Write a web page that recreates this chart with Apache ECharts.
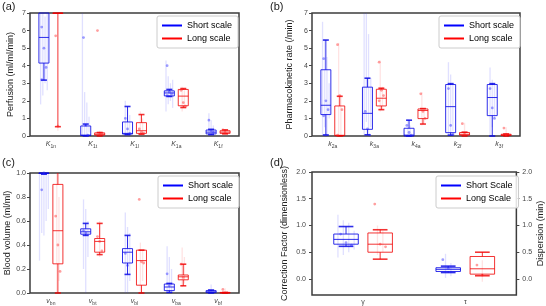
<!DOCTYPE html>
<html>
<head>
<meta charset="utf-8">
<script src="https://cdn.jsdelivr.net/npm/echarts@6/dist/echarts.min.js"></script>
<style>
  html, body { margin: 0; padding: 0; background: #fff; }
  #chart { width: 546px; height: 306px; }
</style>
</head>
<body>
<div id="chart"></div>
<script>
// ---- (a) perfusion, K subscripts ----
const catsA = ['1n', '1t', '1l', '1a', '1f'];
// [low whisker, q1, median, q3, high whisker]
const shortBoxA = [[3.18, 4.15, 5.61, 7.6, 8.0], [0.0, 0.03, 0.05, 0.57, 0.68], [0.08, 0.11, 0.15, 0.8, 1.68], [2.25, 2.28, 2.45, 2.57, 2.65], [0.08, 0.12, 0.22, 0.34, 0.38]];
const longBoxA = [[0.53, 7.5, 8.0, 9.0, 10.0], [0.0, 0.05, 0.1, 0.18, 0.2], [0.1, 0.15, 0.3, 0.76, 1.22], [1.62, 1.72, 2.27, 2.65, 2.7], [0.12, 0.15, 0.22, 0.3, 0.35]];
const shortPtsA = [[6.2, 5.0, 3.9, 3.2], [5.6, 0.6, 0.05], [1.0, 0.4, 0.15], [4.0, 2.5, 2.4, 2.3], [0.9, 0.3, 0.2]];
const longPtsA = [[5.7, 0.55], [6.0, 0.1, 0.15], [0.4, 0.2, 0.15], [2.6, 1.9, 1.7], [0.35, 0.2]];
const shortFaintA = [[[1.8, 7.5], [2.3, 7.0], [3.0, 6.8], [2.6, 7.5]], [[0, 7.5], [0, 2.5], [0, 1.9], [0.2, 1.1]], [[0, 2.0], [0.1, 1.6], [0, 1.2]], [[1.4, 4.3], [1.8, 3.4], [2.0, 3.0], [1.6, 3.2]], [[0, 1.3], [0.05, 0.9], [0.1, 0.6]]];
const longFaintA = [[[0.3, 0.7]], [[0, 0.3]], [[0, 1.4], [0.1, 1.0]], [[1.4, 2.8], [1.6, 2.6]], [[0.1, 0.4]]];

// ---- (b) pharmacokinetic rates, k subscripts ----
const catsB = ['2a', '3a', '4a', '2f', '3f'];
const shortBoxB = [[0.06, 1.22, 1.75, 3.77, 5.46], [0.07, 0.38, 1.29, 2.78, 3.29], [0.0, 0.0, 0.05, 0.44, 0.9], [0.05, 0.19, 1.67, 2.93, 2.98], [0.0, 1.16, 2.19, 2.93, 2.98]];
const longBoxB = [[0.0, 0.02, 0.04, 1.71, 2.26], [1.5, 1.71, 2.15, 2.66, 2.72], [0.68, 0.99, 1.45, 1.54, 1.56], [0.0, 0.05, 0.1, 0.2, 0.22], [0.0, 0.03, 0.06, 0.1, 0.12]];
const shortPtsB = [[4.4, 2.0, 1.5, 1.15, 0.05], [1.4, 0.4, 0.05], [0.6, 0.2, 0.05], [2.7, 0.6, 0.1], [2.7, 1.6, 1.0]];
const longPtsB = [[5.2, 2.3, 1.5, 0.05], [4.2, 2.6, 2.3, 2.0], [2.4, 1.4, 1.0], [0.7, 0.1], [0.45, 0.05]];
const shortFaintB = [[[0, 6.5], [0.5, 5.5], [0, 4.5], [1.0, 3.0]], [[0, 7.5], [0.8, 7.5], [0, 5.8], [0.5, 3.3]], [[0, 0.95], [0, 0.6]], [[0, 4.2], [0, 3.5], [0.3, 3.0]], [[0, 3.9], [0.5, 3.2], [1.0, 3.0]]];
const longFaintB = [[[0, 5.3], [0, 2.3]], [[1.4, 4.3], [1.5, 2.8]], [[0.6, 2.5], [0.7, 1.6]], [[0, 0.75]], [[0, 0.5]]];

// ---- (c) blood volume, v subscripts ----
const catsC = ['bn', 'bt', 'bl', 'ba', 'bf'];
const shortBoxC = [[0.99, 1.0, 1.0, 1.0, 1.0], [0.48, 0.49, 0.51, 0.535, 0.58], [0.155, 0.25, 0.34, 0.37, 0.48], [0.005, 0.02, 0.05, 0.075, 0.08], [0.0, 0.003, 0.01, 0.02, 0.025]];
const longBoxC = [[0.0, 0.243, 0.519, 0.905, 1.0], [0.32, 0.34, 0.43, 0.454, 0.58], [0.0, 0.065, 0.27, 0.357, 0.357], [0.06, 0.11, 0.135, 0.15, 0.24], [0.0, 0.0, 0.002, 0.005, 0.005]];
const shortPtsC = [[0.86, 1.0], [0.52, 0.5], [0.33, 0.23], [0.16, 0.06], [0.02]];
const longPtsC = [[0.64, 0.4, 0.18], [0.47, 0.43, 0.35], [0.78, 0.26, 0.25], [0.24, 0.13], [0.03]];
const shortFaintC = [[[0.27, 1.0], [0.5, 1.0], [0.48, 1.0], [0.6, 1.0], [0.7, 1.0]], [[0.2, 0.78], [0, 0.7], [0.3, 0.6]], [[0, 0.67], [0, 0.55], [0.1, 0.5]], [[0, 0.39], [0, 0.3], [0, 0.2]], [[0, 0.07]]];
const longFaintC = [[[0, 1.0], [0.1, 0.8]], [[0.3, 0.6]], [[0, 0.42], [0.1, 0.35]], [[0.05, 0.38], [0.08, 0.3]], [[0, 0.04]]];

// ---- (d) correction factor / dispersion ----
const catsD = ['γ', 'τ'];
const shortBoxD = [[0.61, 0.65, 0.74, 0.84, 0.98], [0.12, 0.14, 0.18, 0.21, 0.24]];
const longBoxD = [[0.37, 0.5, 0.65, 0.86, 0.92], [0.06, 0.09, 0.19, 0.42, 0.5]];
const shortPtsD = [[0.84, 0.68, 0.63], [0.36, 0.2]];
const longPtsD = [[1.4, 0.65, 0.6], [0.26, 0.07]];
const shortFaintD = [[[0.4, 1.2], [0.45, 1.1], [0.5, 1.05], [0.55, 0.9]], [[0.02, 0.47], [0.05, 0.3]]];
const longFaintD = [[[0.45, 1.0], [0.5, 0.9]], [[-0.05, 0.35]]];
const ticksD = [0, 0.5, 1.0, 1.5, 2.0];

const BLUE = 'rgba(10,10,230,0.85)';
const RED = 'rgba(240,0,0,0.8)';
const FONT = 'Liberation Sans';

function boxRenderer(side, color, faintColor, ptColor, pts, faint) {
  return function (params, api) {
    const i = api.value(0);
    const cs = params.coordSys;
    const band = api.size([1, 0])[0];
    const cx = api.coord([i, 0])[0] + side * band * 0.167;
    const w = band * 0.24;
    const yOf = v => Math.max(cs.y, Math.min(cs.y + cs.height, api.coord([i, v])[1]));
    const lo = yOf(api.value(1)), q1 = yOf(api.value(2)), md = yOf(api.value(3)),
      q3 = yOf(api.value(4)), hi = yOf(api.value(5));
    const kids = [];
    const f = faint[i] || [];
    f.forEach((r, k) => {
      const dx = (k - (f.length - 1) / 2) * w * 0.22;
      kids.push({ type: 'line', shape: { x1: cx + dx, y1: yOf(r[0]), x2: cx + dx, y2: yOf(r[1]) },
        style: { stroke: faintColor, lineWidth: 1.3 } });
    });
    const line = (x1, y1, x2, y2, lw) => kids.push({ type: 'line',
      shape: { x1, y1, x2, y2 }, style: { stroke: color, lineWidth: lw || 1 } });
    line(cx, q3, cx, hi);
    line(cx, q1, cx, lo);
    if (hi > cs.y + 0.5) line(cx - w * 0.3, hi, cx + w * 0.3, hi, 1.6);
    if (lo < cs.y + cs.height - 0.5 || api.value(1) === 0) line(cx - w * 0.3, lo, cx + w * 0.3, lo, 1.6);
    kids.push({ type: 'rect', shape: { x: cx - w / 2, y: q3, width: w, height: Math.max(q1 - q3, 0.5) },
      style: { stroke: color, fill: 'rgba(255,255,255,0)', lineWidth: 1 } });
    line(cx - w / 2, md, cx + w / 2, md, 1);
    (pts[i] || []).forEach((v, k) => {
      const dx = ((k % 3) - 1) * w * 0.22;
      kids.push({ type: 'circle', shape: { cx: cx + dx, cy: yOf(v), r: 1.4 },
        style: { fill: ptColor } });
    });
    return { type: 'group', children: kids };
  };
}

function boxSeries(name, idx, side, color, faintColor, ptColor, boxes, pts, faint) {
  return {
    type: 'custom', name, xAxisIndex: idx, yAxisIndex: idx,
    itemStyle: { color: side < 0 ? '#0000ff' : '#ff0000' },
    renderItem: boxRenderer(side, color, faintColor, ptColor, pts, faint),
    data: boxes.map((b, i) => [i].concat(b)),
    silent: true, z: 3
  };
}

function panelSeries(idx, names, sb, lb, sp, lp, sf, lf) {
  return [
    boxSeries(names[0], idx, -1, BLUE, 'rgba(60,60,255,0.16)', 'rgba(40,40,255,0.45)', sb, sp, sf),
    boxSeries(names[1], idx, 1, RED, 'rgba(255,60,60,0.14)', 'rgba(255,40,40,0.45)', lb, lp, lf)
  ];
}

const grids = [
  { left: 30, top: 13, width: 209, height: 123 },
  { left: 312, top: 13, width: 208, height: 123 },
  { left: 30, top: 173, width: 209, height: 123 },
  { left: 312, top: 172, width: 207, height: 124 }
].map(g => Object.assign(g, { show: true, borderColor: '#3c3c3c', borderWidth: 1.5 }));

function xAxis(idx, cats, letter) {
  return {
    type: 'category', gridIndex: idx, data: cats,
    axisLine: { show: false },
    axisTick: { alignWithLabel: true, interval: 0, length: 3, lineStyle: { color: '#444' } },
    axisLabel: {
      interval: 0, margin: 4, color: '#444',
      formatter: letter ? v => '{k|' + letter + '}{s|' + v + '}' : null,
      fontSize: 7, fontFamily: FONT,
      rich: {
        k: { fontSize: 7, fontStyle: 'italic', fontFamily: FONT, color: '#444', lineHeight: 9 },
        s: { fontSize: 5, fontFamily: FONT, color: '#444', lineHeight: 5, verticalAlign: 'bottom' }
      }
    }
  };
}

function yAxis(idx, name, min, max, interval, digits, gap, extra) {
  return Object.assign({
    type: 'value', gridIndex: idx, min, max, interval,
    name, nameLocation: 'middle', nameGap: gap, nameRotate: 90,
    nameTextStyle: { fontSize: 9, color: '#222', fontFamily: FONT },
    axisLine: { show: false },
    axisTick: { show: true, length: 3, lineStyle: { color: '#444' } },
    splitLine: { show: false },
    axisLabel: { fontSize: 7, color: '#444', margin: 4, fontFamily: FONT,
      formatter: v => v.toFixed(digits) }
  }, extra || {});
}

function legend(left, top, names) {
  return {
    left, top, orient: 'vertical', selectedMode: false,
    data: [
      { name: names[0], itemStyle: { color: '#0000ff' } },
      { name: names[1], itemStyle: { color: '#ff0000' } }
    ],
    icon: 'rect', itemWidth: 20, itemHeight: 2, itemGap: 4,
    padding: [5, 6, 5, 5],
    borderColor: '#cccccc', borderWidth: 1, borderRadius: 2,
    backgroundColor: 'rgba(255,255,255,0.85)',
    textStyle: { fontSize: 9, color: '#000', fontFamily: FONT }
  };
}

const namesLower = ['Short scale', 'Long scale'];
const namesUpper = ['Short Scale', 'Long Scale'];

const tickLabelD = { fontSize: 7, color: '#444', margin: 6, fontFamily: FONT, customValues: ticksD,
  formatter: v => v.toFixed(1) };
const tickD = { show: true, length: 3, customValues: ticksD, lineStyle: { color: '#444' } };

const chart = echarts.init(document.getElementById('chart'), null, { renderer: 'canvas' });
chart.setOption({
  animation: false,
  backgroundColor: '#fff',
  textStyle: { fontFamily: FONT },
  grid: grids,
  legend: [
    legend(157, 16, namesLower),
    legend(439, 16, namesLower),
    legend(158, 176, namesLower),
    legend(436, 176, namesUpper)
  ],
  xAxis: [xAxis(0, catsA, 'K'), xAxis(1, catsB, 'k'), xAxis(2, catsC, 'v'), xAxis(3, catsD, null)],
  yAxis: [
    yAxis(0, 'Perfusion (ml/ml/min)', 0, 7, 1, 0, 15),
    yAxis(1, 'Pharmacokinetic rate (/min)', 0, 7, 1, 0, 18),
    yAxis(2, 'Blood volume (ml/ml)', 0, 1, 0.2, 1, 18),
    yAxis(3, 'Correction Factor (dimensionless)', -0.3, 2, null, 1, 23,
      { axisTick: tickD, axisLabel: tickLabelD }),
    yAxis(3, 'Dispersion (min)', -0.3, 2, null, 1, 19,
      { position: 'right', axisTick: tickD, axisLabel: tickLabelD })
  ],
  graphic: [
    { type: 'text', left: 2, top: 1, style: { text: '(a)', fontSize: 11, fill: '#222', fontFamily: FONT } },
    { type: 'text', left: 270, top: 1, style: { text: '(b)', fontSize: 11, fill: '#222', fontFamily: FONT } },
    { type: 'text', left: 2, top: 157, style: { text: '(c)', fontSize: 11, fill: '#222', fontFamily: FONT } },
    { type: 'text', left: 270, top: 157, style: { text: '(d)', fontSize: 11, fill: '#222', fontFamily: FONT } }
  ],
  series: [].concat(
    panelSeries(0, namesLower, shortBoxA, longBoxA, shortPtsA, longPtsA, shortFaintA, longFaintA),
    panelSeries(1, namesLower, shortBoxB, longBoxB, shortPtsB, longPtsB, shortFaintB, longFaintB),
    panelSeries(2, namesLower, shortBoxC, longBoxC, shortPtsC, longPtsC, shortFaintC, longFaintC),
    panelSeries(3, namesUpper, shortBoxD, longBoxD, shortPtsD, longPtsD, shortFaintD, longFaintD)
  )
});
</script>
</body>
</html>
